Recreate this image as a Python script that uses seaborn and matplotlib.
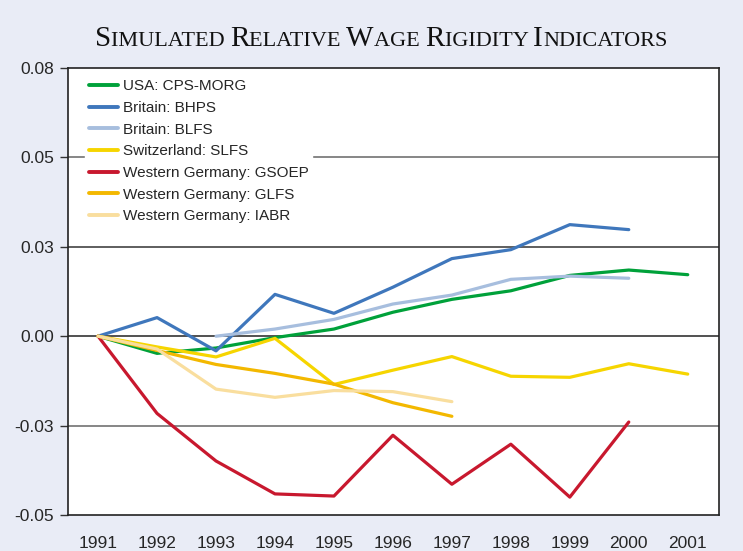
import numpy as np
import pandas as pd
import matplotlib
matplotlib.use("Agg")
import matplotlib.pyplot as plt
import seaborn as sns

# --- Data ---
years = [1991, 1992, 1993, 1994, 1995, 1996, 1997, 1998, 1999, 2000, 2001]

usa_cps_morg = [0.0, -0.0048, -0.0033, -0.0004, 0.0020, 0.0067, 0.0103, 0.0127, 0.0170, 0.0185, 0.0172]
britain_bhps = [0.0, 0.0052, -0.0041, 0.0117, 0.0064, 0.0137, 0.0217, 0.0242, 0.0312, 0.0298, None]
britain_blfs = [None, None, 0.0, 0.0020, 0.0047, 0.0090, 0.0115, 0.0159, 0.0168, 0.0162, None]
swiss_slfs = [0.0, -0.0030, -0.0058, -0.0006, -0.0135, -0.0095, -0.0057, -0.0112, -0.0115, -0.0077, -0.0106]
wg_gsoep = [0.0, -0.0216, -0.0349, -0.0441, -0.0447, -0.0277, -0.0414, -0.0302, -0.0450, -0.0240, None]
wg_glfs = [0.0, -0.0040, -0.0079, -0.0104, -0.0134, -0.0186, -0.0224, None, None, None, None]
wg_iabr = [0.0, -0.0036, -0.0148, -0.0171, -0.0152, -0.0155, -0.0183, None, None, None, None]

series = {
    "USA: CPS-MORG": usa_cps_morg,
    "Britain: BHPS": britain_bhps,
    "Britain: BLFS": britain_blfs,
    "Switzerland: SLFS": swiss_slfs,
    "Western Germany: GSOEP": wg_gsoep,
    "Western Germany: GLFS": wg_glfs,
    "Western Germany: IABR": wg_iabr,
}
colors = ["#00A13A", "#3F77BC", "#A7BEDE", "#F6D500", "#C8182E", "#F3B800", "#F9DE9E"]

y_ticks = [-0.05, -0.025, 0.0, 0.025, 0.05, 0.075]
y_tick_labels = ["-0.05", "-0.03", "0.00", "0.03", "0.05", "0.08"]

title_words = ["Simulated", "Relative", "Wage", "Rigidity", "Indicators"]

# --- Long table for seaborn ---
rows = []
for name, vals in series.items():
    for yr, v in zip(years, vals):
        if v is not None:
            rows.append({"year": yr, "value": v, "series": name})
df = pd.DataFrame(rows)

sns.set_style("white")
plt.rcParams["font.family"] = ["Liberation Sans", "DejaVu Sans"]

bg = "#E9ECF6"
fig = plt.figure(figsize=(7.43, 5.51), dpi=100, facecolor=bg)
ax = fig.add_axes([68 / 743, 1 - 515 / 551, (719 - 68) / 743, (515 - 68) / 551])
ax.set_facecolor("white")

# gridlines behind the lines
for yv, c in zip([0.05, 0.025, 0.0, -0.025], ["#666666", "#333333", "#222222", "#666666"]):
    ax.axhline(yv, color=c, lw=1.1, zorder=1)

sns.lineplot(data=df, x="year", y="value", hue="series", hue_order=list(series.keys()),
             palette=colors, linewidth=2.3, ax=ax, legend=True, zorder=3)

ax.set_xlim(1990.49, 2001.53)
ax.set_ylim(-0.05, 0.075)
ax.set_xticks(years)
ax.set_xticklabels([str(y) for y in years], fontsize=12.5)
ax.set_yticks(y_ticks)
ax.set_yticklabels(y_tick_labels, fontsize=12.5)
ax.tick_params(axis="x", length=0, pad=15)
ax.tick_params(axis="y", length=6, width=1, color="#333333", pad=4, left=True)
ax.set_xlabel("")
ax.set_ylabel("")
for s in ax.spines.values():
    s.set_color("#222222")
    s.set_linewidth(1.2)

leg = ax.legend(loc="upper left", bbox_to_anchor=(0.015, 1.0), frameon=True, fancybox=False,
                framealpha=1, facecolor="white", edgecolor="white", fontsize=11,
                handlelength=1.9, handletextpad=0.3, labelspacing=0.5, borderpad=0.25)
leg.set_zorder(5)
for line in leg.get_lines():
    line.set_linewidth(2.8)

# --- Small-caps serif title built from pieces ---
fig.canvas.draw()
renderer = fig.canvas.get_renderer()
pieces = []
for i, w in enumerate(title_words):
    pieces.append((w[0].upper(), 21))
    pieces.append((w[1:].upper() + (" " if i < len(title_words) - 1 else ""), 16))
texts = []
for s, size in pieces:
    t = fig.text(0, 0, s, fontsize=size, family="Liberation Serif", color="#111111",
                 ha="left", va="baseline")
    texts.append(t)
widths = [t.get_window_extent(renderer).width for t in texts]
total = sum(widths)
x0 = 381 - total / 2
baseline = 551 - 46
for t, w in zip(texts, widths):
    t.set_position((x0 / 743, baseline / 551))
    x0 += w

fig.savefig("out.png", dpi=100, facecolor=bg)
